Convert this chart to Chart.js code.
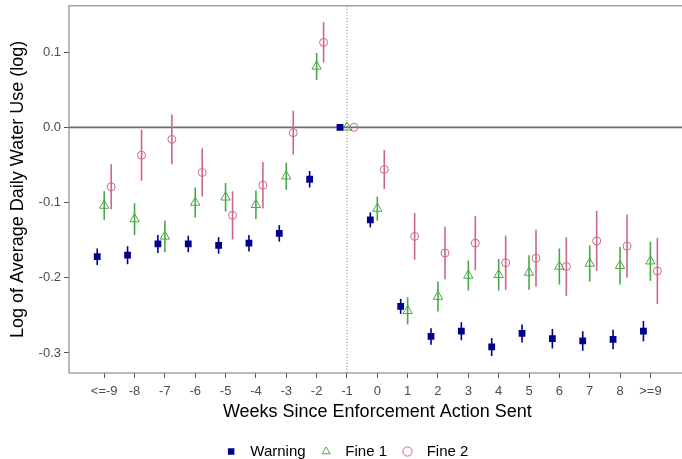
<!DOCTYPE html>
<html>
<head>
<meta charset="utf-8">
<script src="https://cdn.jsdelivr.net/npm/chart.js@4.4.1/dist/chart.umd.min.js"></script>
<style>
  html, body { margin: 0; padding: 0; background: #fff; overflow: hidden; }
  #wrap { position: relative; width: 692px; height: 474px; margin-top: -5px; }
</style>
</head>
<body>
<div id="wrap"><canvas id="chart"></canvas></div>
<script>
// weeks since enforcement action (-9 means "<=-9", 9 means ">=9")
const weeks = [-9, -8, -7, -6, -5, -4, -3, -2, -1, 0, 1, 2, 3, 4, 5, 6, 7, 8, 9];
const weekLabels = ['<=-9', '-8', '-7', '-6', '-5', '-4', '-3', '-2', '-1', '0', '1', '2', '3', '4', '5', '6', '7', '8', '>=9'];
const yTicks = [-0.3, -0.2, -0.1, 0.0, 0.1];

const warning = [-0.172, -0.170, -0.155, -0.155, -0.157, -0.154, -0.141, -0.069, 0,
                 -0.123, -0.238, -0.278, -0.271, -0.292, -0.274, -0.281, -0.284, -0.282, -0.271];
const warningErr = [0.011, 0.012, 0.012, 0.011, 0.011, 0.011, 0.011, 0.011, 0,
                    0.010, 0.010, 0.011, 0.012, 0.012, 0.012, 0.013, 0.013, 0.013, 0.0135];

const fine1 = [-0.104, -0.122, -0.145, -0.100, -0.093, -0.103, -0.065, 0.081, 0,
               -0.108, -0.244, -0.225, -0.197, -0.196, -0.193, -0.185, -0.181, -0.184, -0.178];
const fine1Err = [0.019, 0.021, 0.021, 0.020, 0.019, 0.019, 0.018, 0.018, 0,
                  0.016, 0.018, 0.020, 0.020, 0.021, 0.023, 0.024, 0.024, 0.025, 0.026];

const fine2 = [-0.079, -0.037, -0.016, -0.060, -0.117, -0.077, -0.007, 0.113, 0,
               -0.056, -0.145, -0.167, -0.154, -0.180, -0.174, -0.185, -0.151, -0.158, -0.191];
const fine2Err = [0.030, 0.034, 0.033, 0.032, 0.032, 0.031, 0.029, 0.027, 0,
                  0.026, 0.031, 0.035, 0.036, 0.036, 0.038, 0.039, 0.040, 0.042, 0.044];

function points(values, errs, shift) {
  return weeks.map((w, i) => ({ x: w + shift, y: values[i], err: errs[i] }));
}

// draws the confidence interval of each point just before the point itself
const errorBars = {
  id: 'errorBars',
  beforeDatasetDraw(chart, args) {
    const ds = chart.data.datasets[args.index];
    const xs = chart.scales.x, ys = chart.scales.y;
    const ctx = chart.ctx;
    ctx.save();
    ctx.strokeStyle = ds.borderColor;
    ctx.lineWidth = 1.6;
    ds.data.forEach(p => {
      if (!p.err) return;
      const px = xs.getPixelForValue(p.x);
      ctx.beginPath();
      ctx.moveTo(px, ys.getPixelForValue(p.y - p.err));
      ctx.lineTo(px, ys.getPixelForValue(p.y + p.err));
      ctx.stroke();
    });
    ctx.restore();
  }
};

// panel frame, zero line and the dotted line at week -1
const refLines = {
  id: 'refLines',
  beforeDatasetsDraw(chart) {
    const { ctx, chartArea: a, scales } = chart;
    ctx.save();
    ctx.strokeStyle = '#8c8c8c';
    ctx.lineWidth = 1.2;
    ctx.strokeRect(a.left, a.top, a.right - a.left, a.bottom - a.top);

    const y0 = scales.y.getPixelForValue(0);
    ctx.strokeStyle = '#6e6e6e';
    ctx.lineWidth = 1.8;
    ctx.beginPath();
    ctx.moveTo(a.left, y0);
    ctx.lineTo(a.right, y0);
    ctx.stroke();

    const xv = scales.x.getPixelForValue(-1);
    ctx.strokeStyle = '#777';
    ctx.lineWidth = 1;
    ctx.setLineDash([1, 2]);
    ctx.beginPath();
    ctx.moveTo(xv, a.top);
    ctx.lineTo(xv, a.bottom);
    ctx.stroke();
    ctx.restore();
  }
};

Chart.defaults.font.family = '"Liberation Sans", Arial, sans-serif';

new Chart(document.getElementById('chart'), {
  type: 'scatter',
  data: {
    datasets: [
      {
        label: 'Warning', data: points(warning, warningErr, -0.23),
        pointStyle: 'rect', pointRadius: 4.8, pointHoverRadius: 4.8,
        backgroundColor: '#00008B', borderColor: '#00008B', pointBorderWidth: 0
      },
      {
        label: 'Fine 1', data: points(fine1, fine1Err, 0),
        pointStyle: 'triangle', pointRadius: 5.4, pointHoverRadius: 5.4,
        backgroundColor: 'rgba(0,0,0,0)', borderColor: '#47A847', pointBorderWidth: 1
      },
      {
        label: 'Fine 2', data: points(fine2, fine2Err, 0.23),
        pointStyle: 'circle', pointRadius: 4, pointHoverRadius: 4,
        backgroundColor: 'rgba(0,0,0,0)', borderColor: '#CC6688', pointBorderWidth: 1
      }
    ]
  },
  options: {
    responsive: true,
    maintainAspectRatio: false,
    animation: false,
    layout: { padding: { top: 1, right: 0, left: 0, bottom: 0 } },
    plugins: {
      tooltip: { enabled: false },
      legend: {
        position: 'bottom',
        onClick: null,
        labels: {
          usePointStyle: true,
          boxWidth: 15,
          boxHeight: 6.5,
          padding: 13,
          color: '#000',
          font: { size: 15 },
          generateLabels: chart => Chart.defaults.plugins.legend.labels.generateLabels(chart)
            .map(l => Object.assign(l, { text: ' ' + l.text }))
        }
      }
    },
    scales: {
      x: {
        type: 'linear',
        min: -10.16,
        max: 10.16,
        afterBuildTicks: s => { s.ticks = weeks.map(v => ({ value: v })); },
        afterFit: s => { s.height = 58; },
        ticks: {
          autoSkip: false,
          maxRotation: 0,
          padding: 6,
          color: '#4d4d4d',
          font: { size: 13 },
          callback: (v) => weekLabels[weeks.indexOf(v)]
        },
        grid: { drawOnChartArea: false, drawTicks: true, tickLength: 5, tickColor: '#555' },
        border: { display: false },
        title: {
          display: true,
          text: 'Weeks Since Enforcement Action Sent',
          color: '#000',
          font: { size: 18 },
          padding: { top: 0, bottom: 8.5 }
        }
      },
      y: {
        min: -0.3266,
        max: 0.1616,
        afterBuildTicks: s => { s.ticks = yTicks.map(v => ({ value: v })); },
        afterFit: s => { s.width = 69; },
        ticks: {
          padding: 3,
          color: '#4d4d4d',
          font: { size: 13 },
          callback: v => v.toFixed(1)
        },
        grid: { drawOnChartArea: false, drawTicks: true, tickLength: 5, tickColor: '#555' },
        border: { display: false },
        title: {
          display: true,
          text: 'Log of Average Daily Water Use (log)',
          color: '#000',
          font: { size: 18 },
          padding: { top: 7, bottom: 0 }
        }
      }
    }
  },
  plugins: [refLines, errorBars]
});
</script>
</body>
</html>
